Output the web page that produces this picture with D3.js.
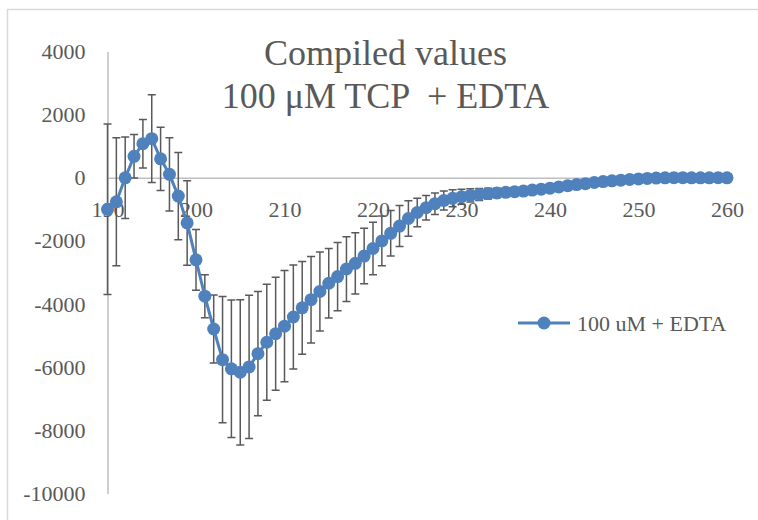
<!DOCTYPE html>
<html>
<head>
<meta charset="utf-8">
<script src="https://cdn.jsdelivr.net/npm/d3@7"></script>
<style>
  html, body { margin: 0; padding: 0; background: #fff; }
  svg { display: block; font-family: "Liberation Serif", serif; }
</style>
</head>
<body>
<script>
const wavelength = [
  190, 191, 192, 193, 194, 195, 196, 197, 198, 199,
  200, 201, 202, 203, 204, 205, 206, 207, 208, 209,
  210, 211, 212, 213, 214, 215, 216, 217, 218, 219,
  220, 221, 222, 223, 224, 225, 226, 227, 228, 229,
  230, 231, 232, 233, 234, 235, 236, 237, 238, 239,
  240, 241, 242, 243, 244, 245, 246, 247, 248, 249,
  250, 251, 252, 253, 254, 255, 256, 257, 258, 259, 260
];

const signal = [
  -1000, -760, 0, 680, 1080, 1240, 600, 110, -580, -1430,
  -2600, -3750, -4790, -5760, -6050, -6160, -5990, -5570, -5210, -4940,
  -4700, -4410, -4120, -3860, -3600, -3340, -3130, -2890, -2710, -2480,
  -2240, -2000, -1760, -1530, -1290, -1100, -950, -820, -720, -650,
  -600, -560, -530, -500, -480, -460, -440, -420, -390, -360,
  -330, -290, -250, -215, -185, -150, -120, -95, -75, -55,
  -35, -20, -10, 0, 5, 5, 0, 0, 0, 5, 0
];

const errors = [
  2700, 2030, 1290, 690, 770, 1390, 1000, 1160, 1380, 1340,
  960, 680, 1080, 2000, 2180, 2300, 2270, 1970, 1840, 1790,
  1760, 1650, 1470, 1370, 1250, 1100, 1080, 1025, 970, 880,
  830, 790, 720, 650, 560, 450, 390, 340, 300, 270,
  240, 210, 190, 170, 150, 130, 110, 95, 80, 70,
  60, 55, 50, 45, 40, 40, 35, 35, 30, 30,
  30, 25, 25, 25, 20, 20, 20, 20, 20, 20, 20
];

const xTicks      = [190, 200, 210, 220, 230, 240, 250, 260];
const yTicks      = [-10000, -8000, -6000, -4000, -2000, 0, 2000, 4000];
const titleLines  = ['Compiled values', '100 μM TCP  + EDTA'];
const seriesName  = '100 uM + EDTA';

const width  = 758,
      height = 520,
      blue   = '#4f81bd',
      grey   = '#595959',
      axisC  = '#bfbfbf';

const x = d3.scaleLinear().domain([190, 260]).range([107.5, 727]);
const y = d3.scaleLinear().domain([-10000, 4000]).range([493.5, 51.5]);

const points = wavelength.map((w, i) => ({ w, v: signal[i], e: errors[i] }));

const svg = d3.select('body').append('svg')
  .attr('width', width)
  .attr('height', height);

svg.append('rect')
  .attr('width', width).attr('height', height)
  .attr('fill', '#fff');

// chart border
svg.append('rect')
  .attr('x', 7.5).attr('y', 9.5)
  .attr('width', 760).attr('height', 520)
  .attr('fill', 'none')
  .attr('stroke', '#d9d9d9')
  .attr('stroke-width', 1.5);

// plain hyphen minus, like the spreadsheet
const fmt = d => String(d);

// y axis
const yAxis = svg.append('g')
  .attr('transform', `translate(${x(190)},0)`)
  .call(d3.axisLeft(y).tickValues(yTicks).tickSize(0).tickPadding(22).tickFormat(fmt));

// x axis on the zero line
const xAxis = svg.append('g')
  .attr('transform', `translate(0,${y(0)})`)
  .call(d3.axisBottom(x).tickValues(xTicks).tickSize(0).tickPadding(24).tickFormat(fmt));

for (const ax of [xAxis, yAxis]) {
  ax.select('.domain').attr('stroke', axisC).attr('stroke-width', 1.5);
  ax.selectAll('text')
    .attr('fill', grey)
    .attr('font-size', 22)
    .attr('font-family', '"Liberation Serif", serif');
}

// error bars
const bars = svg.append('g')
  .attr('stroke', grey)
  .attr('stroke-width', 1.5)
  .attr('fill', 'none');

bars.selectAll('path')
  .data(points)
  .join('path')
  .attr('d', d => {
    const cx = x(d.w), t = y(d.v + d.e), b = y(d.v - d.e);
    return `M${cx - 4},${t}H${cx + 4}M${cx},${t}V${b}M${cx - 4},${b}H${cx + 4}`;
  });

// series line + markers
svg.append('path')
  .datum(points)
  .attr('fill', 'none')
  .attr('stroke', blue)
  .attr('stroke-width', 3)
  .attr('stroke-linejoin', 'round')
  .attr('d', d3.line().x(d => x(d.w)).y(d => y(d.v)));

svg.append('g')
  .selectAll('circle')
  .data(points)
  .join('circle')
  .attr('cx', d => x(d.w))
  .attr('cy', d => y(d.v))
  .attr('r', 6.5)
  .attr('fill', blue);

// title
svg.append('g')
  .selectAll('text')
  .data(titleLines)
  .join('text')
  .attr('x', 385.5)
  .attr('y', (d, i) => 65 + i * 43)
  .attr('text-anchor', 'middle')
  .attr('fill', grey)
  .attr('font-size', 36)
  .style('white-space', 'pre')
  .text(d => d);

// legend
const legend = svg.append('g').attr('transform', 'translate(518,323)');

legend.append('line')
  .attr('x1', 0).attr('x2', 52)
  .attr('stroke', blue)
  .attr('stroke-width', 3);

legend.append('circle')
  .attr('cx', 26).attr('r', 6.5)
  .attr('fill', blue);

legend.append('text')
  .attr('x', 59).attr('y', 7.5)
  .attr('fill', grey)
  .attr('font-size', 22)
  .text(seriesName);
</script>
</body>
</html>
